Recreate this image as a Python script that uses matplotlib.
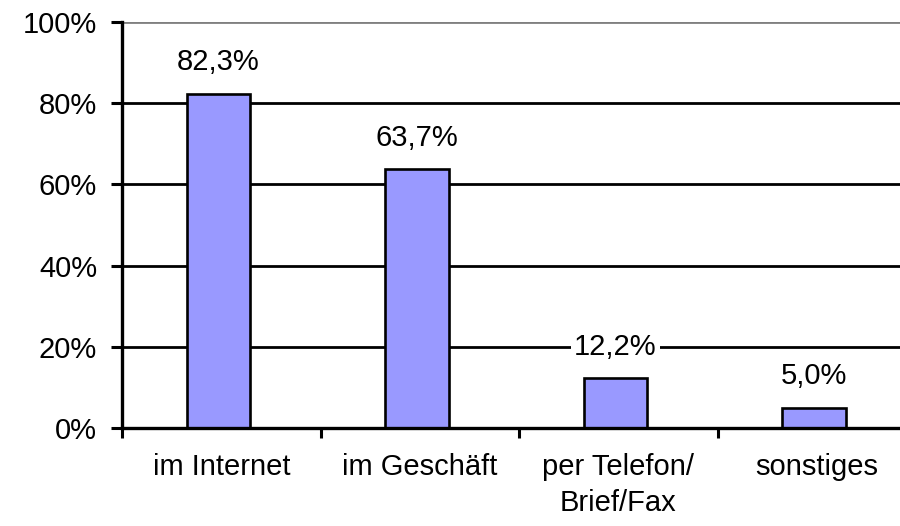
"""Bar chart: Wo wird eingekauft (percent of respondents)."""

import matplotlib

matplotlib.use("Agg")

import matplotlib.pyplot as plt
from matplotlib.ticker import FixedLocator

categories = ["im Internet", "im Geschäft", "per Telefon/\nBrief/Fax", "sonstiges"]
values = [82.3, 63.7, 12.2, 5.0]
value_labels = ["82,3%", "63,7%", "12,2%", "5,0%"]
y_ticks = [0, 20, 40, 60, 80, 100]
y_tick_labels = ["0%", "20%", "40%", "60%", "80%", "100%"]

BAR = "#9999FF"
FONT = "Liberation Sans"
FS = 21
BAR_SHIFT = -0.015  # bars sit a hair left of the category centre in the original


def main():
    plt.rcParams["font.family"] = [FONT, "DejaVu Sans"]
    fig = plt.figure(figsize=(9, 5.26), dpi=100)
    fig.patch.set_facecolor("white")
    # axes run a little past the right edge of the picture, as in the original
    ax = fig.add_axes([122 / 900, 98 / 526, 794 / 900, 406 / 526])

    x = list(range(len(categories)))
    bar_x = [xi + BAR_SHIFT for xi in x]
    ax.bar(bar_x, values, width=0.32, color=BAR, edgecolor="black", linewidth=1.9, zorder=3)

    for xi, v, lab in zip(bar_x, values, value_labels):
        ax.annotate(
            lab, (xi, v), xytext=(0, 17), textcoords="offset points",
            ha="center", va="baseline", fontsize=FS, color="black", zorder=5,
            bbox=dict(boxstyle="square,pad=0.1", facecolor="white", edgecolor="none"),
        )

    ax.set_xlim(-0.5, 3.5)
    ax.set_ylim(0, 100)

    ax.set_yticks(y_ticks)
    ax.set_yticklabels(y_tick_labels, fontsize=FS)
    ax.tick_params(axis="y", length=8, width=2.2, pad=10, color="black")

    ax.xaxis.set_major_locator(FixedLocator([-0.5, 0.5, 1.5, 2.5, 3.5]))
    ax.xaxis.set_minor_locator(FixedLocator(x))
    ax.set_xticklabels([], minor=False)
    ax.set_xticklabels(categories, minor=True, fontsize=FS, linespacing=1.35)
    ax.tick_params(axis="x", which="major", length=7, width=2.2, color="black")
    ax.tick_params(axis="x", which="minor", length=0, pad=18)

    ax.yaxis.grid(True, color="black", linewidth=2.0, zorder=1)
    ax.set_axisbelow(True)
    ax.yaxis.get_gridlines()[-1].set_color("#808080")

    for side in ["top", "right"]:
        ax.spines[side].set_visible(False)
    for side in ["left", "bottom"]:
        ax.spines[side].set_linewidth(2.4)
        ax.spines[side].set_color("black")
        ax.spines[side].set_zorder(4)

    fig.savefig("out.png", dpi=100, facecolor="white")
    plt.close(fig)


if __name__ == "__main__":
    main()
